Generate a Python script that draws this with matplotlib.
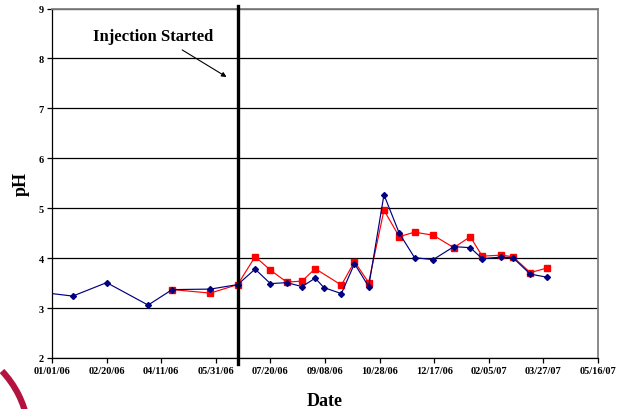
import matplotlib
matplotlib.use("Agg")
import matplotlib.pyplot as plt
import matplotlib.dates as mdates
from matplotlib.patches import Arc
from matplotlib.lines import Line2D
import pandas as pd

# Sampling dates and pH readings
well_a_dates = ["2006-01-01", "2006-01-20", "2006-02-20", "2006-03-30", "2006-04-21",
                "2006-05-26", "2006-06-20", "2006-07-06", "2006-07-20", "2006-08-04",
                "2006-08-18", "2006-08-30", "2006-09-07", "2006-09-23", "2006-10-05",
                "2006-10-18", "2006-11-01", "2006-11-15", "2006-11-29", "2006-12-16",
                "2007-01-04", "2007-01-19", "2007-01-30", "2007-02-16", "2007-02-27",
                "2007-03-15", "2007-03-30"]
well_a_ph = [3.29, 3.24, 3.51, 3.06, 3.37, 3.38, 3.47, 3.78, 3.49, 3.51,
             3.43, 3.60, 3.41, 3.29, 3.89, 3.43, 5.27, 4.50, 4.01, 3.97,
             4.23, 4.21, 3.99, 4.02, 4.01, 3.68, 3.62]

well_b_dates = ["2006-04-21", "2006-05-26", "2006-06-20", "2006-07-06", "2006-07-20",
                "2006-08-04", "2006-08-18", "2006-08-30", "2006-09-23", "2006-10-05",
                "2006-10-18", "2006-11-01", "2006-11-15", "2006-11-29", "2006-12-16",
                "2007-01-04", "2007-01-19", "2007-01-30", "2007-02-16", "2007-02-27",
                "2007-03-15", "2007-03-30"]
well_b_ph = [3.37, 3.30, 3.47, 4.03, 3.76, 3.52, 3.54, 3.79, 3.46, 3.93,
             3.51, 4.96, 4.43, 4.52, 4.46, 4.21, 4.43, 4.04, 4.06, 4.03,
             3.71, 3.80]

injection_date = "2006-06-20"
x_start, x_end = "2006-01-01", "2007-05-16"
y_ticks = [2, 3, 4, 5, 6, 7, 8, 9]

serif = ["Liberation Serif", "DejaVu Serif"]

fig = plt.figure(figsize=(6.2, 4.1), dpi=100)
ax = fig.add_axes([0.0839, 0.1244, 0.8806, 0.8524])

da = pd.to_datetime(well_a_dates)
db = pd.to_datetime(well_b_dates)

ax.plot(da, well_a_ph, color="#000080", lw=0.85, marker="D", ms=3.0,
        markevery=list(range(1, len(da))), zorder=4)
ax.plot(db, well_b_ph, color="#FF0000", lw=0.85, marker="s", ms=4.6, zorder=3)

x0, x1 = pd.Timestamp(x_start), pd.Timestamp(x_end)
ax.set_xlim(x0, x1)
ax.set_ylim(2, 9)
ax.set_yticks(y_ticks)
ax.set_xticks(pd.date_range(x0, x1, freq="50D"))
ax.xaxis.set_major_formatter(mdates.DateFormatter("%m/%d/%y"))

ax.grid(axis="y", color="black", lw=0.9)
ax.set_axisbelow(True)

for side in ("left", "bottom"):
    ax.spines[side].set_color("black")
    ax.spines[side].set_linewidth(0.9)
for side in ("top", "right"):
    ax.spines[side].set_color("#808080")
    ax.spines[side].set_linewidth(1.3)

ax.tick_params(axis="both", direction="out", length=3.5, width=0.9, pad=2.5)
for lbl in ax.get_xticklabels() + ax.get_yticklabels():
    lbl.set_fontfamily(serif)
    lbl.set_fontweight("bold")
    lbl.set_fontsize(7.5)

ax.set_ylabel("pH", fontfamily=serif, fontweight="bold", fontsize=13, labelpad=6)
ax.set_xlabel("Date", fontfamily=serif, fontweight="bold", fontsize=13, labelpad=12)

# injection marker line
inj = pd.Timestamp(injection_date)
ax.add_line(Line2D([inj, inj], [1.88, 9.05], color="black", lw=2.4,
                   clip_on=False, zorder=5))
ax.annotate("", xy=(inj - pd.Timedelta(days=8), 7.6),
            xytext=(inj - pd.Timedelta(days=53), 8.2),
            arrowprops=dict(arrowstyle="-|>", color="black", lw=0.8,
                            mutation_scale=7))
ax.text(inj - pd.Timedelta(days=77), 8.45, "Injection Started", ha="center",
        va="center", fontfamily=serif, fontweight="bold", fontsize=12)

# corner emblem arc
arc = Arc((-70 / 620, 1 - 440 / 410), 2 * 99 / 620, 2 * 99 / 410,
          theta1=15, theta2=55, transform=fig.transFigure, color="#B3143F",
          lw=4.5, clip_on=False)
fig.add_artist(arc)

fig.savefig("out.png", dpi=100)
